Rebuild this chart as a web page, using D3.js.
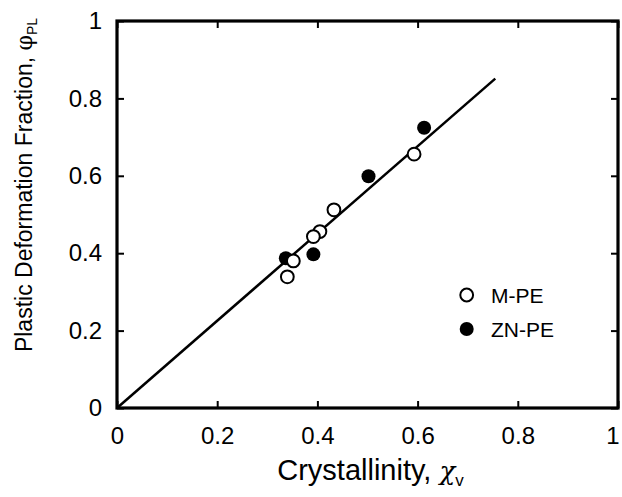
<!DOCTYPE html>
<html>
<head>
<meta charset="utf-8">
<script src="https://cdn.jsdelivr.net/npm/d3@7"></script>
<style>
html,body{margin:0;padding:0;background:#fff;}
svg{display:block;}
text{font-family:"Liberation Sans",Arial,Helvetica,sans-serif;fill:#000;}
</style>
</head>
<body>
<div id="chart"></div>
<script>
// ---- data ----
const tickValues = [0, 0.2, 0.4, 0.6, 0.8, 1];
const tickLabels = ["0", "0.2", "0.4", "0.6", "0.8", "1"];

const mpeX = [0.340, 0.352, 0.405, 0.392, 0.433, 0.593];
const mpeY = [0.339, 0.380, 0.456, 0.443, 0.512, 0.656];

const znX = [0.337, 0.392, 0.502, 0.613];
const znY = [0.387, 0.397, 0.599, 0.724];

const fitX = [0, 0.755];
const fitY = [0, 0.851];

const seriesNames = ["M-PE", "ZN-PE"];

// ---- layout ----
const W = 622, H = 497;
const m = {left: 117, right: 4, top: 21, bottom: 89};

const svg = d3.select("#chart").append("svg").attr("width", W).attr("height", H);

const x = d3.scaleLinear().domain([0, 1]).range([m.left, W - m.right]);
const y = d3.scaleLinear().domain([0, 1]).range([H - m.bottom, m.top]);

const fmt = (d) => tickLabels[tickValues.indexOf(d)];

// fit line
svg.append("path")
  .datum(fitX.map((d, i) => [d, fitY[i]]))
  .attr("d", d3.line().x(d => x(d[0])).y(d => y(d[1])))
  .attr("fill", "none").attr("stroke", "#000").attr("stroke-width", 2.5);

// ZN-PE (filled)
svg.append("g").selectAll("circle").data(znX.map((d, i) => [d, znY[i]])).join("circle")
  .attr("cx", d => x(d[0])).attr("cy", d => y(d[1])).attr("r", 7)
  .attr("fill", "#000");

// M-PE (open)
svg.append("g").selectAll("circle").data(mpeX.map((d, i) => [d, mpeY[i]])).join("circle")
  .attr("cx", d => x(d[0])).attr("cy", d => y(d[1])).attr("r", 6.4)
  .attr("fill", "#fff").attr("stroke", "#000").attr("stroke-width", 2);

// axes
const gB = svg.append("g").attr("transform", `translate(0,${y(0)})`)
  .call(d3.axisBottom(x).tickValues(tickValues).tickFormat(fmt).tickSizeInner(-7).tickSizeOuter(0).tickPadding(19));
const gL = svg.append("g").attr("transform", `translate(${x(0)},0)`)
  .call(d3.axisLeft(y).tickValues(tickValues).tickFormat(fmt).tickSizeInner(-7).tickSizeOuter(0).tickPadding(15));
const gT = svg.append("g").attr("transform", `translate(0,${y(1)})`)
  .call(d3.axisTop(x).tickValues(tickValues).tickFormat("").tickSizeInner(-7).tickSizeOuter(0));
const gR = svg.append("g").attr("transform", `translate(${x(1)},0)`)
  .call(d3.axisRight(y).tickValues(tickValues).tickFormat("").tickSizeInner(-7).tickSizeOuter(0));

[gB, gL, gT, gR].forEach(g => {
  g.select(".domain").remove();
  g.selectAll(".tick line").attr("stroke", "#000").attr("stroke-width", 2);
  g.selectAll(".tick text").style("font-size", "24px").attr("fill", "#000")
    .style("font-family", '"Liberation Sans",Arial,Helvetica,sans-serif');
});
// keep the last bottom label inside the page
gB.selectAll(".tick text").filter(d => d === 1).attr("text-anchor", "end").attr("x", 1);

// frame
svg.append("rect")
  .attr("x", x(0)).attr("y", y(1))
  .attr("width", x(1) - x(0)).attr("height", y(0) - y(1))
  .attr("fill", "none").attr("stroke", "#000").attr("stroke-width", 3.2);

// x title
const xt = svg.append("text").attr("x", (x(0) + x(1)) / 2 + 3).attr("y", 480)
  .attr("text-anchor", "middle").style("font-size", "29px");
xt.append("tspan").text("Crystallinity, ");
xt.append("tspan").text("χ").style("font-family", '"DejaVu Serif",serif').style("font-style", "italic").style("font-size", "26px");
xt.append("tspan").text("v").attr("dy", 6).style("font-size", "17px");

// y title
const yt = svg.append("text").attr("transform", "translate(32,185) rotate(-90)")
  .attr("text-anchor", "middle").style("font-size", "23px");
yt.append("tspan").text("Plastic Deformation Fraction, ");
yt.append("tspan").text("φ").style("font-family", '"DejaVu Serif",serif').style("font-size", "22px");
yt.append("tspan").text("PL").attr("dy", 5).style("font-size", "14px");

// legend
const leg = svg.append("g");
const legY = [295, 329];
leg.append("circle").attr("cx", 466.7).attr("cy", legY[0]).attr("r", 6.4)
  .attr("fill", "#fff").attr("stroke", "#000").attr("stroke-width", 2);
leg.append("circle").attr("cx", 466.7).attr("cy", legY[1]).attr("r", 7).attr("fill", "#000");
seriesNames.forEach((s, i) => {
  leg.append("text").attr("x", 491).attr("y", legY[i] + 7.5).style("font-size", "21px").text(s);
});
</script>
</body>
</html>
